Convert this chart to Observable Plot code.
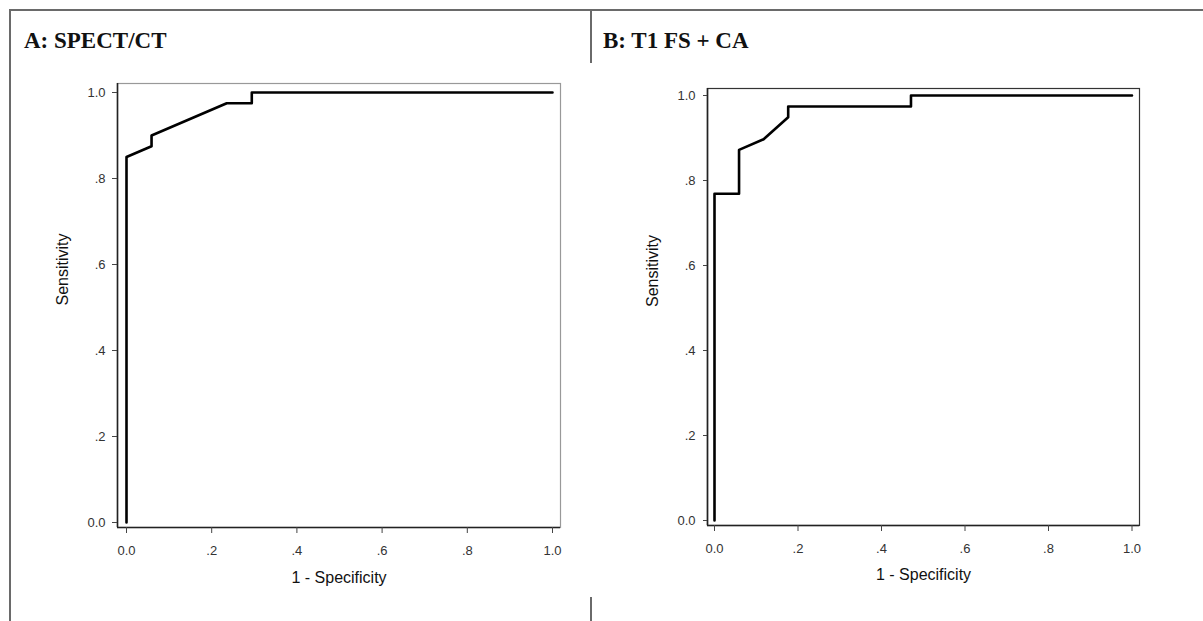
<!DOCTYPE html>
<html><head><meta charset="utf-8">
<script src="https://cdn.jsdelivr.net/npm/d3@7"></script>
<script src="https://cdn.jsdelivr.net/npm/@observablehq/plot@0.6"></script>
<style>
html,body{margin:0;padding:0;background:#fff;}
#root{position:relative;width:1203px;height:621px;overflow:hidden;background:#fff;}
.panel{position:absolute;top:0;}
.title{position:absolute;top:29px;font-family:"Liberation Serif","Times New Roman",serif;font-weight:bold;font-size:23px;color:#111;line-height:1;white-space:nowrap;}
.bline{position:absolute;background:#6a6a6a;z-index:5;}
</style></head><body>
<div id="root">
  <div class="panel" id="pa" style="left:0px"></div>
  <div class="panel" id="pb" style="left:600px"></div>
  <div class="title" id="ta" style="left:24px"></div>
  <div class="title" id="tb" style="left:603px"></div>
  <div class="bline" style="left:8.6px;top:9px;width:1195px;height:2px"></div>
  <div class="bline" style="left:8.6px;top:9px;width:2px;height:612px"></div>
  <div class="bline" style="left:589.5px;top:9px;width:2px;height:54px"></div>
  <div class="bline" style="left:589.5px;top:597px;width:2px;height:24px"></div>
</div>
<script>
// Panel titles
const titles = ["A: SPECT/CT", "B: T1 FS + CA"];
// Axis labels and ticks
const xLabel = "1 - Specificity";
const yLabel = "Sensitivity";
const tickValues = [0, 0.2, 0.4, 0.6, 0.8, 1];
const tickLabels = ["0.0", ".2", ".4", ".6", ".8", "1.0"];
// Panel A: SPECT/CT ROC curve
const fprA  = [0, 0,    0.0588, 0.0588, 0.2353, 0.2941, 0.2941, 1];
const sensA = [0, 0.85, 0.875,  0.9,    0.975,  0.975,  1,      1];
// Panel B: T1 FS + CA ROC curve
const fprB  = [0, 0,     0.0588, 0.0588, 0.1176, 0.1765, 0.1765, 0.4706, 0.4706, 1];
const sensB = [0, 0.769, 0.769,  0.872,  0.897,  0.949,  0.974,  0.974,  1,      1];

const fmt = d => tickLabels[tickValues.indexOf(d)];

function roc(fpr, sens, g) {
  const data = fpr.map((x, i) => ({x, y: sens[i]}));
  return Plot.plot({
    width: g.width, height: 621,
    marginLeft: g.ml, marginRight: g.mr, marginTop: g.mt, marginBottom: g.mb,
    insetLeft: g.il, insetRight: g.ir, insetTop: g.it, insetBottom: g.ib,
    style: {background: "transparent", fontFamily: "'Liberation Sans', Arial, sans-serif", fontSize: "13px", overflow: "visible"},
    x: {domain: [0, 1]},
    y: {domain: [0, 1]},
    marks: [
      Plot.frame({stroke: g.frame, strokeWidth: 1.2}),
      Plot.ruleX([0], {dx: -g.il, stroke: "#222", strokeWidth: 1.6, y1: null, y2: null}),
      Plot.ruleY([0], {dy: g.ib, stroke: "#222", strokeWidth: 1.6}),
      Plot.axisX({ticks: tickValues, tickFormat: fmt, tickSize: 6, tickPadding: 12, label: null, stroke: "#444", fill: "#333"}),
      Plot.axisY({ticks: tickValues, tickFormat: fmt, tickSize: g.yt, tickPadding: g.yp, label: null, stroke: "#444", fill: "#333"}),
      Plot.line(data, {x: "x", y: "y", stroke: "#000", strokeWidth: 2.6}),
      Plot.text([xLabel], {text: d => d, frameAnchor: "bottom", dy: g.xdy, fontSize: 16, fill: "#111"}),
      Plot.text([yLabel], {text: d => d, frameAnchor: "left", dx: -55, rotate: -90, fontSize: 16, fill: "#111"})
    ]
  });
}

document.getElementById("ta").textContent = titles[0];
document.getElementById("tb").textContent = titles[1];

document.getElementById("pa").append(roc(fprA, sensA, {
  width: 600, ml: 117, mr: 40, mt: 83, mb: 94,
  il: 9, ir: 8, it: 9, ib: 5, yt: 5, yp: 7, xdy: 55, frame: "#999"
}));
document.getElementById("pb").append(roc(fprB, sensB, {
  width: 603, ml: 107, mr: 64, mt: 88, mb: 96,
  il: 7, ir: 7.5, it: 7, ib: 5, yt: 4, yp: 8, xdy: 54, frame: "#333"
}));
</script>
</body></html>
